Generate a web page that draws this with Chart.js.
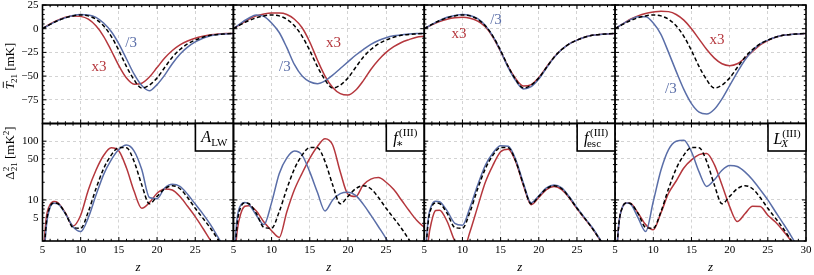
<!DOCTYPE html>
<html>
<head>
<meta charset="utf-8">
<script src="https://cdn.jsdelivr.net/npm/chart.js@4.4.1/dist/chart.umd.min.js"></script>
<style>
  html, body { margin: 0; background: #fff; }
  #wrap { position: relative; width: 814px; height: 275px; }
  #wrap canvas { position: absolute; left: 0; top: 0; }
</style>
</head>
<body>
<div id="wrap"></div>
<script>
// ── Données ───────────────────────────────────────────────────────────────────
// Ligne du haut : T21 moyen [mK] aux redshifts entiers
const zT = [5, 6, 7, 8, 9, 10, 11, 12, 13, 14, 15, 16, 17, 18, 19, 20, 21, 22, 23, 24, 25, 26, 27, 28, 29, 30];
const tFid   = [0, 4.5, 8.5, 11.5, 13.5, 14.5, 13.5, 10, 3, -8, -23, -40, -54, -62.5, -59.5, -52, -41, -30, -22, -16, -12, -9, -7, -6, -5.5, -5];
const tLwHi  = [0, 5, 9, 12, 13.5, 13, 10, 3, -8, -23, -39, -52, -58.5, -57.5, -51, -41, -31, -23, -17, -13, -10, -8, -6.5, -5.5, -5, -5];
const tLwLo  = [0, 4.5, 8.5, 11.5, 14, 15, 14.5, 12, 6, -3, -16, -32, -48, -60, -65.5, -59, -49, -37, -27, -19.5, -14, -10, -7.5, -6, -5.5, -5];
const tStarHi = [0, 5, 10, 13.5, 15.5, 16.5, 16.5, 15, 10, 1, -14, -33, -50, -62, -68.5, -70, -65, -55, -43, -33, -25, -19, -14.5, -11.5, -9, -8];
const tStarLo = [0, 6, 11, 14.5, 13, 6, -4, -20, -38, -50, -56, -58, -55, -49, -42, -35, -28, -22, -16.5, -12.5, -9.5, -7.5, -6.5, -5.5, -5, -5];
const tEscHi = [0, 4, 7.5, 10, 11.5, 12, 11, 8, 2, -9, -24, -40, -53, -60.5, -59, -51.5, -40.5, -30, -22, -16, -12, -9, -7, -6, -5.5, -5];
const tEscLo = [0, 4.5, 8.5, 12, 14, 15, 14, 10.5, 3.5, -8, -23.5, -41, -55, -63.5, -61, -53, -41.5, -30.5, -22, -16, -12, -9, -7, -6, -5.5, -5];
const tLxHi  = [0, 5, 10, 13.5, 16, 17.5, 18.5, 18, 15, 9, 0, -11, -22, -31, -37, -39, -37, -31, -24, -17, -12.5, -9, -7, -6, -5.5, -5];
const tLxLo  = [0, 5, 9.5, 12.5, 12.5, 6, -6, -25, -45, -64, -79, -88, -90, -85, -74, -60, -46, -33, -23, -16, -12, -9, -7, -6, -5.5, -5];

// Ligne du bas : Δ²21 [mK²]
const zD = [5, 5.5, 6, 6.5, 7, 8, 9, 10, 11, 12, 13, 14, 15, 16, 17, 18, 19, 20, 21, 22, 23, 24, 25, 26, 27, 28, 29, 30];
const dFid   = [0.5, 4, 7.7, 8.9, 8.7, 5.9, 3.4, 3.3, 6.3, 15.5, 34, 58, 78, 77, 45, 18, 8.6, 11.5, 15.5, 17.5, 15.5, 11, 7.2, 4.9, 3.3, 2.1, 1.3, 0.8];
const dLwHi  = [0.8, 5, 8.3, 9.4, 9, 6, 3.6, 5.5, 14.8, 32, 57, 77, 68, 35, 14, 7.2, 9, 13, 15.4, 14.8, 11.4, 7.8, 5.2, 3.3, 2.05, 1.3, 0.8, 0.5];
const dLwLo  = [0.4, 3.5, 7.5, 8.8, 8.6, 5.8, 3.5, 2.9, 5, 12, 27, 48, 72, 86, 68, 33, 11, 10.5, 16, 18.5, 17, 12.5, 8.5, 5.8, 3.8, 2.3, 1.4, 0.8];
const dStarHi = [0.5, 3, 6, 7.8, 8, 6.5, 4.2, 3, 2.3, 6.3, 15, 28.5, 51, 81, 110, 86, 30, 12.5, 11.4, 18, 22.6, 24, 20, 15, 10, 6.6, 4.5, 3.4];
const dStarLo = [0.8, 5, 8.3, 9, 8.5, 5.5, 3.8, 9, 28, 52, 68, 58, 30, 13.5, 6.5, 10, 12.8, 13.5, 12, 8.5, 5.5, 3.5, 2.2, 1.3, 0.8, 0.5, 0.4, 0.3];
const dEscHi = [0.2, 1.9, 4.5, 6.6, 6.7, 4.3, 2.0, 1.3, 2.9, 7.7, 20, 39, 66, 73, 44, 17.5, 8.3, 11, 15, 17, 15, 10.8, 7.1, 4.8, 3.3, 2.1, 1.3, 0.8];
const dEscLo = [0.6, 4.5, 8.3, 9.5, 9.3, 6.5, 4, 3.7, 7.5, 18, 39, 63, 84, 82, 48, 19, 8.9, 11.8, 16, 18, 16, 11.3, 7.4, 5, 3.4, 2.15, 1.3, 0.8];
const dLxHi  = [0.5, 4, 7.7, 8.9, 8.8, 6, 3.8, 3.1, 6, 13, 21, 35, 48, 59, 62, 40, 18, 7.7, 4.3, 5.8, 7.8, 7.7, 5.5, 4.2, 3, 2.05, 1.3, 0.8];
const dLxLo  = [0.5, 4, 7.7, 8.9, 8.6, 5, 2.9, 9.4, 32, 72, 100, 104, 66, 30, 17, 22, 32, 38.5, 37, 30, 22, 15, 10, 6.3, 4, 2.5, 1.5, 0.9];

const xTickVals = [5, 10, 15, 20, 25, 30];
const tTickVals = [-100, -75, -50, -25, 0, 25];
const dTickVals = [5, 10, 50, 100];

// ── Mise en page ──────────────────────────────────────────────────────────────
const W = 814, H = 275;
const PANEL_LEFT = [42.5, 233.4, 424.25, 615.1];
const PANEL_W = 190.9;
const ROW_TOP = [5, 123.5];
const ROW_BOTTOM = [123.5, 241];
const RED = '#b5373d';
const BLUE = '#5a6ea8';
const GRID = '#c8c8c8';
const SERIF = '"Liberation Serif", "DejaVu Serif", serif';

const pts = (zs, vs) => zs.map((z, i) => ({ x: z, y: vs[i] }));
const fontOf = (size, italic) => (italic ? 'italic ' : '') + size + 'px ' + SERIF;

// texte avec indices / exposants, centré sur x, ligne de base y
function drawRich(ctx, x, y, parts) {
    let total = 0;
    for (const p of parts) {
        ctx.font = fontOf(p.size, p.italic);
        p._w = ctx.measureText(p.t).width;
        let extra = 0;
        const s = Math.round(p.size * 0.68);
        if (p.sup) { ctx.font = fontOf(s, false); extra = Math.max(extra, ctx.measureText(p.sup).width + (p.supShift || 0)); }
        if (p.sub) { ctx.font = fontOf(s, p.subItalic); extra = Math.max(extra, ctx.measureText(p.sub).width + (p.subShift || 0)); }
        p._e = extra;
        total += p._w + extra;
    }
    let cx = x - total / 2;
    ctx.textAlign = 'left';
    ctx.textBaseline = 'alphabetic';
    for (const p of parts) {
        const s = Math.round(p.size * 0.68);
        ctx.font = fontOf(p.size, p.italic);
        ctx.fillText(p.t, cx, y);
        if (p.bar) ctx.fillRect(cx + p._w * 0.2, y - p.size * 0.86, p._w * 0.85, 0.9);
        cx += p._w;
        if (p.sup) { ctx.font = fontOf(s, false); ctx.fillText(p.sup, cx + (p.supShift || 0), y - p.size * 0.42); }
        if (p.sub) { ctx.font = fontOf(s, p.subItalic); ctx.fillText(p.sub, cx + (p.subShift || 0), y + p.size * 0.24); }
        cx += p._e;
    }
}

// cadre, graduations intérieures, annotations
const panelDecor = {
    id: 'panelDecor',
    afterDraw(chart, args, o) {
        const { ctx, chartArea: a, scales: { x, y } } = chart;
        ctx.save();
        ctx.strokeStyle = '#000';
        ctx.lineWidth = 1;
        ctx.beginPath();
        for (let z = 5; z <= 30; z++) {
            const px = x.getPixelForValue(z);
            const len = z % 5 === 0 ? 4 : 2.2;
            ctx.moveTo(px, a.bottom); ctx.lineTo(px, a.bottom - len);
            ctx.moveTo(px, a.top); ctx.lineTo(px, a.top + len);
        }
        for (const [v, major] of o.yMarks) {
            const py = y.getPixelForValue(v);
            const len = major ? 4 : 2.2;
            ctx.moveTo(a.left, py); ctx.lineTo(a.left + len, py);
            ctx.moveTo(a.right, py); ctx.lineTo(a.right - len, py);
        }
        ctx.stroke();

        ctx.lineWidth = 1.6;
        ctx.strokeRect(a.left, a.top, a.width, a.height);

        ctx.textAlign = 'center';
        ctx.textBaseline = 'middle';
        ctx.font = fontOf(15, false);
        for (const n of o.notes || []) {
            ctx.fillStyle = n.color;
            ctx.fillText(n.text, x.getPixelForValue(n.z), y.getPixelForValue(n.v));
        }

        ctx.fillStyle = '#000';
        if (o.box) {
            const bw = 38, bh = 27.5;
            ctx.fillStyle = '#fff';
            ctx.fillRect(a.right - bw, a.top, bw, bh);
            ctx.strokeRect(a.right - bw, a.top, bw, bh);
            ctx.fillStyle = '#000';
            drawRich(ctx, a.right - bw / 2, a.top + o.box.base, o.box.parts);
        }
        if (o.yTitle) {
            ctx.save();
            ctx.translate(14, o.yTitle.cy);
            ctx.rotate(-Math.PI / 2);
            drawRich(ctx, 0, 0, o.yTitle.parts);
            ctx.restore();
        }
        if (o.xTitle) {
            ctx.textAlign = 'center';
            ctx.textBaseline = 'middle';
            ctx.font = fontOf(13, true);
            ctx.fillText('z', (a.left + a.right) / 2, 268);
        }
        ctx.restore();
    },
};

const tMarks = [];
for (let v = -100; v <= 25; v += 5) tMarks.push([v, v % 25 === 0]);
const dMarks = [];
for (const d of [1, 10, 100]) for (let k = 1; k <= 9; k++) {
    const v = k * d;
    if (v >= 2 && v <= 200) dMarks.push([v, k === 1]);
}

// les libellés qui débordent ne doivent pas décaler la zone du graphe
function noOverflow(s) {
    s.paddingTop = 0; s.paddingBottom = 0;
    s.paddingLeft = 0; s.paddingRight = 0;
}

const wrap = document.getElementById('wrap');

function makePanel(p) {
    const canvas = document.createElement('canvas');
    canvas.width = W; canvas.height = H;
    wrap.appendChild(canvas);
    const top = p.r === 0;
    const zs = top ? zT : zD;
    const left = PANEL_LEFT[p.c];
    const tickFont = { family: SERIF, size: 11 };

    const yScale = top ? {
        type: 'linear', min: -100, max: 25,
        afterBuildTicks: s => { s.ticks = tTickVals.map(v => ({ value: v })); },
        ticks: {
            display: p.c === 0, padding: 4, color: '#000', font: tickFont,
            callback: v => v === -100 ? '' : (v < 0 ? '\u2212' + (-v) : String(v)),
        },
    } : {
        type: 'logarithmic', min: 2, max: 200,
        afterBuildTicks: s => { s.ticks = dTickVals.map(v => ({ value: v })); },
        ticks: { display: p.c === 0, padding: 4, color: '#000', font: tickFont, callback: v => String(v) },
    };
    Object.assign(yScale, {
        afterFit: s => { s.width = p.c === 0 ? PANEL_LEFT[0] : 0; noOverflow(s); },
        grid: { color: GRID, drawTicks: false, lineWidth: 0.8 },
        border: { display: false, dash: [3, 3] },
    });

    new Chart(canvas, {
        type: 'line',
        data: {
            datasets: [
                { data: pts(zs, p.fid), borderColor: '#000', borderDash: [4, 2.5], order: 0 },
                { data: pts(zs, p.lo), borderColor: BLUE, order: 1 },
                { data: pts(zs, p.hi), borderColor: RED, order: 2 },
            ],
        },
        options: {
            responsive: false,
            animation: false,
            devicePixelRatio: 1,
            layout: {
                padding: {
                    left: p.c === 0 ? 0 : left,
                    right: W - left - PANEL_W,
                    top: ROW_TOP[p.r],
                    bottom: top ? H - ROW_BOTTOM[0] : 0,
                },
            },
            elements: {
                point: { radius: 0 },
                line: { borderWidth: 1.5, cubicInterpolationMode: 'monotone' },
            },
            plugins: {
                legend: { display: false },
                tooltip: { enabled: false },
                panelDecor: {
                    yMarks: top ? tMarks : dMarks,
                    notes: p.notes,
                    box: p.box,
                    yTitle: p.yTitle,
                    xTitle: !top,
                },
            },
            scales: {
                x: {
                    type: 'linear', min: 5, max: 30,
                    afterBuildTicks: s => { s.ticks = xTickVals.map(v => ({ value: v })); },
                    afterFit: s => { s.height = top ? 0 : H - ROW_BOTTOM[1]; noOverflow(s); },
                    grid: { color: GRID, drawTicks: false, lineWidth: 0.8 },
                    border: { display: false, dash: [3, 3] },
                    ticks: {
                        display: !top, padding: 3, color: '#000', font: tickFont,
                        maxRotation: 0, autoSkip: false,
                        callback: v => (v === 30 && p.c < 3) ? '' : String(v),
                    },
                },
                y: yScale,
            },
        },
        plugins: [panelDecor],
    });
}

const SUP3 = '(III)';
const panels = [
    { c: 0, r: 0, fid: tFid, hi: tLwHi, lo: tLwLo,
      notes: [{ text: '/3', color: BLUE, z: 16.6, v: -15.4 }, { text: 'x3', color: RED, z: 12.4, v: -40.6 }],
      yTitle: { cy: 66, parts: [{ t: 'T', size: 13, italic: true, bar: true, sub: '21', subShift: -1 }, { t: ' [mK]', size: 13 }] } },
    { c: 1, r: 0, fid: tFid, hi: tStarHi, lo: tStarLo,
      notes: [{ text: 'x3', color: RED, z: 18.1, v: -15.4 }, { text: '/3', color: BLUE, z: 11.75, v: -40.6 }] },
    { c: 2, r: 0, fid: tFid, hi: tEscHi, lo: tEscLo,
      notes: [{ text: '/3', color: BLUE, z: 14.4, v: 8.7 }, { text: 'x3', color: RED, z: 9.55, v: -6 }] },
    { c: 3, r: 0, fid: tFid, hi: tLxHi, lo: tLxLo,
      notes: [{ text: 'x3', color: RED, z: 18.35, v: -12.3 }, { text: '/3', color: BLUE, z: 12.3, v: -63.8 }] },
    { c: 0, r: 1, fid: dFid, hi: dLwHi, lo: dLwLo,
      box: { base: 18.5, parts: [{ t: 'A', size: 16, italic: true, sub: 'LW', subShift: 0 }] },
      yTitle: { cy: 153, parts: [{ t: '\u0394', size: 13, sup: '2', sub: '21' }, { t: ' [mK', size: 13, sup: '2' }, { t: ']', size: 13 }] } },
    { c: 1, r: 1, fid: dFid, hi: dStarHi, lo: dStarLo,
      box: { base: 19.5, parts: [{ t: 'f', size: 16, italic: true, sup: SUP3, supShift: 1.5, sub: '\u2217', subShift: -1.5 }] } },
    { c: 2, r: 1, fid: dFid, hi: dEscHi, lo: dEscLo,
      box: { base: 19.5, parts: [{ t: 'f', size: 16, italic: true, sup: SUP3, supShift: 1.5, sub: 'esc', subShift: -1.5 }] } },
    { c: 3, r: 1, fid: dFid, hi: dLxHi, lo: dLxLo,
      box: { base: 20, parts: [{ t: 'L', size: 16, italic: true, sup: SUP3, sub: 'X', subItalic: true, subShift: -1 }] } },
];

panels.forEach(makePanel);
</script>
</body>
</html>
